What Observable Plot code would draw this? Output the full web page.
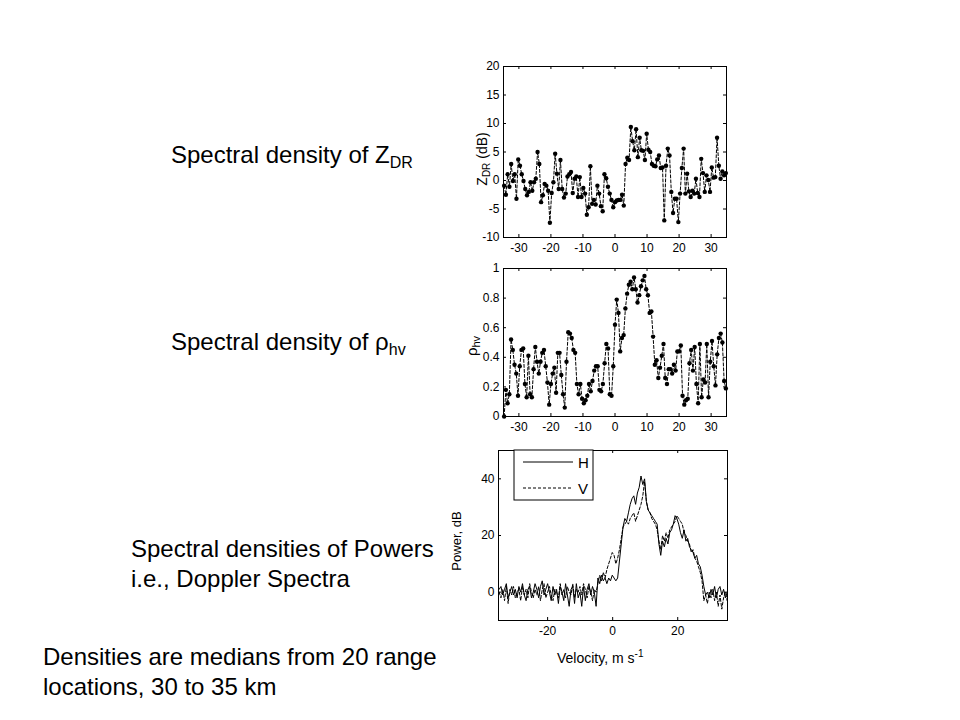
<!DOCTYPE html>
<html>
<head>
<meta charset="utf-8">
<script src="https://cdn.jsdelivr.net/npm/d3@7"></script>
<script src="https://cdn.jsdelivr.net/npm/@observablehq/plot@0.6"></script>
<style>
  body { margin: 0; background: #fff; }
  #wrap { position: relative; width: 960px; height: 720px; background: #fff; overflow: hidden; font-family: "Liberation Sans", Arial, sans-serif; }
  .panel { position: absolute; }
  #ann { position: absolute; left: 0; top: 0; pointer-events: none; }
</style>
</head>
<body>
<div id="wrap">
  <div id="p1" class="panel" style="left:460px; top:56px;"></div>
  <div id="p2" class="panel" style="left:460px; top:258px;"></div>
  <div id="p3" class="panel" style="left:455px; top:440px;"></div>
  <svg id="ann" width="960" height="720" font-family="Liberation Sans, Arial, sans-serif" fill="black">
    <!-- left-hand captions -->
    <text x="171" y="163" font-size="24">Spectral density of Z<tspan font-size="16" dy="5">DR</tspan></text>
    <text x="171" y="350" font-size="24">Spectral density of ρ<tspan font-size="16" dy="5">hv</tspan></text>
    <text x="131" y="557" font-size="24">Spectral densities of Powers</text>
    <text x="131" y="587" font-size="24">i.e., Doppler Spectra</text>
    <text x="43" y="665" font-size="24">Densities are medians from 20 range</text>
    <text x="43" y="695" font-size="24">locations, 30 to 35 km</text>
    <!-- axis labels -->
    <text transform="translate(487,159) rotate(-90)" text-anchor="middle" font-size="14">Z<tspan font-size="10" dy="3">DR</tspan><tspan dy="-3"> (dB)</tspan></text>
    <text transform="translate(477,346) rotate(-90)" text-anchor="middle" font-size="15">ρ<tspan font-size="11" dy="3">hv</tspan></text>
    <text transform="translate(461,541) rotate(-90)" text-anchor="middle" font-size="13">Power, dB</text>
    <text x="557" y="663" font-size="14">Velocity, m s<tspan font-size="10" dy="-6">-1</tspan></text>
    <!-- legend -->
    <rect x="514" y="450" width="79" height="50" fill="white" stroke="black" stroke-width="1"></rect>
    <line x1="523" x2="573" y1="462" y2="462" stroke="black" stroke-width="1"></line>
    <text x="578" y="467.5" font-size="15">H</text>
    <line x1="523" x2="573" y1="488" y2="488" stroke="black" stroke-width="1" stroke-dasharray="3,2"></line>
    <text x="578" y="493.5" font-size="15">V</text>
  </svg>
</div>
<script>
// ---------------- DATA ----------------
const velTicksTop = [-30, -20, -10, 0, 10, 20, 30];
const velTicksPow = [-20, 0, 20];
const zdrTicks = [-10, -5, 0, 5, 10, 15, 20];
const rhoTicks = [0, 0.2, 0.4, 0.6, 0.8, 1];
const powTicks = [0, 20, 40];

// velocity bin range (m/s) of the spectra
const velRangeTop = [-34.6, 34.6];
const velRangePow = [-34.9, 35.2];

// spectral ZDR (dB)
const zdr = [
  -0.9,-2.5,1.1,-1.1,2.9,-0.1,1.1,-3.2,3.7,2.6,
  1.1,-0.1,-1.5,-2.6,-2.0,-0.3,-1.8,-0.3,0.3,5.0,
  2.9,-3.8,-2.6,-0.6,-0.9,-1.8,-7.4,-2.2,-0.3,4.7,
  1.2,-1.5,3.6,-1.5,-3.0,-2.3,0.7,1.1,1.5,-2.2,
  0.3,0.7,-2.9,0.6,-2.9,-1.3,-2.3,-6.0,-4.7,2.5,
  -4.1,-3.4,-4.2,-0.9,-2.3,-4.5,-5.4,1.1,0.4,-1.1,
  -2.3,-3.4,-4.7,-3.8,-3.5,-3.4,-3.4,-2.5,-4.4,2.9,
  4.0,3.6,9.4,6.9,5.3,9.0,4.1,7.5,5.3,5.2,
  3.6,8.2,5.4,5.0,2.9,2.6,2.5,3.7,4.4,2.2,
  2.3,-7.0,2.6,5.6,4.4,-2.0,-5.7,-3.2,-3.2,-7.3,
  -2.3,2.2,5.6,-2.3,1.2,-1.9,-2.9,-1.8,-2.3,0.3,
  -2.2,-2.9,3.8,1.3,-2.0,0.9,0.1,-2.0,2.3,0.5,
  0.6,7.5,2.6,0.3,1.6,0.9,1.3
];

// spectral copolar correlation coefficient
const rho = [
  0.00,0.18,0.09,0.15,0.52,0.45,0.35,0.29,0.14,0.34,
  0.45,0.46,0.22,0.13,0.41,0.15,0.13,0.32,0.47,0.37,
  0.29,0.37,0.43,0.45,0.34,0.23,0.08,0.22,0.29,0.33,
  0.16,0.43,0.43,0.28,0.15,0.06,0.37,0.57,0.56,0.53,
  0.45,0.43,0.22,0.15,0.22,0.12,0.09,0.11,0.14,0.22,
  0.17,0.24,0.31,0.34,0.34,0.18,0.17,0.22,0.36,0.49,
  0.46,0.15,0.14,0.34,0.62,0.79,0.70,0.44,0.53,0.55,
  0.73,0.83,0.89,0.91,0.86,0.94,0.86,0.77,0.82,0.88,
  0.92,0.95,0.86,0.82,0.70,0.71,0.54,0.35,0.38,0.26,
  0.33,0.41,0.49,0.26,0.22,0.32,0.32,0.29,0.35,0.31,
  0.44,0.44,0.48,0.14,0.08,0.11,0.12,0.36,0.45,0.31,
  0.47,0.22,0.09,0.49,0.13,0.25,0.23,0.49,0.13,0.37,
  0.51,0.34,0.21,0.42,0.53,0.56,0.50,0.24,0.19
];

// Doppler spectra, dB
const powH = [
  1,2,-1,1,3,-2,0,2,-1,1,
  -2,2,0,3,-1,-3,1,2,-2,0,
  3,1,-2,2,4,-1,1,3,0,-3,
  2,-1,1,-4,2,0,-3,3,-1,-5,
  1,2,-4,3,-2,0,-5,2,-3,1,
  3,-1,2,0,-5,
  5,3,6,4,5,3,5,4,6,5,
  4,5,11,17,23,26,25,28,31,33,
  34,31,35,37,41,38,40,32,29,28,
  27,26,25,24,17,13,18,16,19,17,
  21,22,24,27,26,24,21,19,22,18,
  19,16,15,14,12,13,10,9,6,2,
  -1,0,-2,1,-1,2,-2,1,2,-1,
  1,-2,0
];
const powV = [
  0,-2,1,-3,2,-4,1,-1,2,-2,
  0,1,-3,2,-1,1,-2,3,0,-2,
  1,-1,2,-3,1,3,-2,0,2,-1,
  -3,1,0,-2,3,-1,1,-2,2,0,
  -1,3,-2,1,0,2,-1,3,1,-2,
  2,0,-3,1,0,
  3,6,4,7,5,8,10,12,14,13,
  10,12,15,19,23,24,25,24,26,27,
  28,25,27,29,31,34,39,32,29,28,
  26,25,24,22,18,15,20,18,21,19,
  22,23,24,25,27,26,25,24,21,20,
  18,17,14,15,12,11,9,7,4,-3,
  -1,-4,0,-2,1,-3,0,-5,-1,-6,
  -2,0,-3
];

// ---------------- BUILD ----------------
const bins = (n, [lo, hi]) => d3.range(n).map(i => lo + (hi - lo) * i / (n - 1));
const fmt = d => String(d);
const font = {fontFamily: "Liberation Sans, Arial, sans-serif", fontSize: "12px", background: "transparent", color: "black", overflow: "visible"};

function panel({width, height, margin, xDomain, xTicks, yDomain, yTicks, marks}) {
  const [mt, mr, mb, ml] = margin;
  const iw = width - ml - mr, ih = height - mt - mb, tl = 3;
  return Plot.plot({
    width, height,
    marginTop: mt, marginRight: mr, marginBottom: mb, marginLeft: ml,
    style: font,
    x: {domain: xDomain, ticks: xTicks, tickFormat: fmt, tickSize: 0, tickPadding: 6, label: null},
    y: {domain: yDomain, ticks: yTicks, tickFormat: fmt, tickSize: 0, tickPadding: 4, label: null},
    marks: [
      ...marks,
      Plot.ruleX(xTicks, {insetTop: ih - tl, stroke: "black"}),
      Plot.ruleX(xTicks, {insetBottom: ih - tl, stroke: "black"}),
      Plot.ruleY(yTicks, {insetRight: iw - tl, stroke: "black"}),
      Plot.ruleY(yTicks, {insetLeft: iw - tl, stroke: "black"}),
      Plot.frame({stroke: "black"})
    ]
  });
}

const vz = bins(zdr.length, velRangeTop);
const zdrData = zdr.map((z, i) => ({v: vz[i], z}));
const vr = bins(rho.length, velRangeTop);
const rhoData = rho.map((r, i) => ({v: vr[i], r}));
const vp = bins(powH.length, velRangePow);
const powData = [
  ...powH.map((p, i) => ({v: vp[i], p, s: "H"})),
  ...powV.map((p, i) => ({v: vp[i], p, s: "V"}))
];

document.getElementById("p1").append(panel({
  width: 280, height: 200, margin: [10, 14, 19, 43],
  xDomain: [-34.8, 34.8], xTicks: velTicksTop,
  yDomain: [-10, 20], yTicks: zdrTicks,
  marks: [
    Plot.line(zdrData, {x: "v", y: "z", stroke: "black", strokeWidth: 1, strokeDasharray: "3,2"}),
    Plot.dot(zdrData, {x: "v", y: "z", r: 2.2, fill: "black", stroke: "none"})
  ]
}));

document.getElementById("p2").append(panel({
  width: 280, height: 178, margin: [10, 14, 20, 43],
  xDomain: [-34.8, 34.8], xTicks: velTicksTop,
  yDomain: [0, 1], yTicks: rhoTicks,
  marks: [
    Plot.line(rhoData, {x: "v", y: "r", stroke: "black", strokeWidth: 1, strokeDasharray: "3,2"}),
    Plot.dot(rhoData, {x: "v", y: "r", r: 2.2, fill: "black", stroke: "none"})
  ]
}));

document.getElementById("p3").append(panel({
  width: 285, height: 200, margin: [10, 13, 20, 43],
  xDomain: [-35.1, 35.3], xTicks: velTicksPow,
  yDomain: [-10, 50], yTicks: powTicks,
  marks: [
    Plot.line(powData.filter(d => d.s === "V"), {x: "v", y: "p", stroke: "black", strokeWidth: 1, strokeDasharray: "3,2"}),
    Plot.line(powData.filter(d => d.s === "H"), {x: "v", y: "p", stroke: "black", strokeWidth: 1})
  ]
}));
</script>
</body>
</html>
